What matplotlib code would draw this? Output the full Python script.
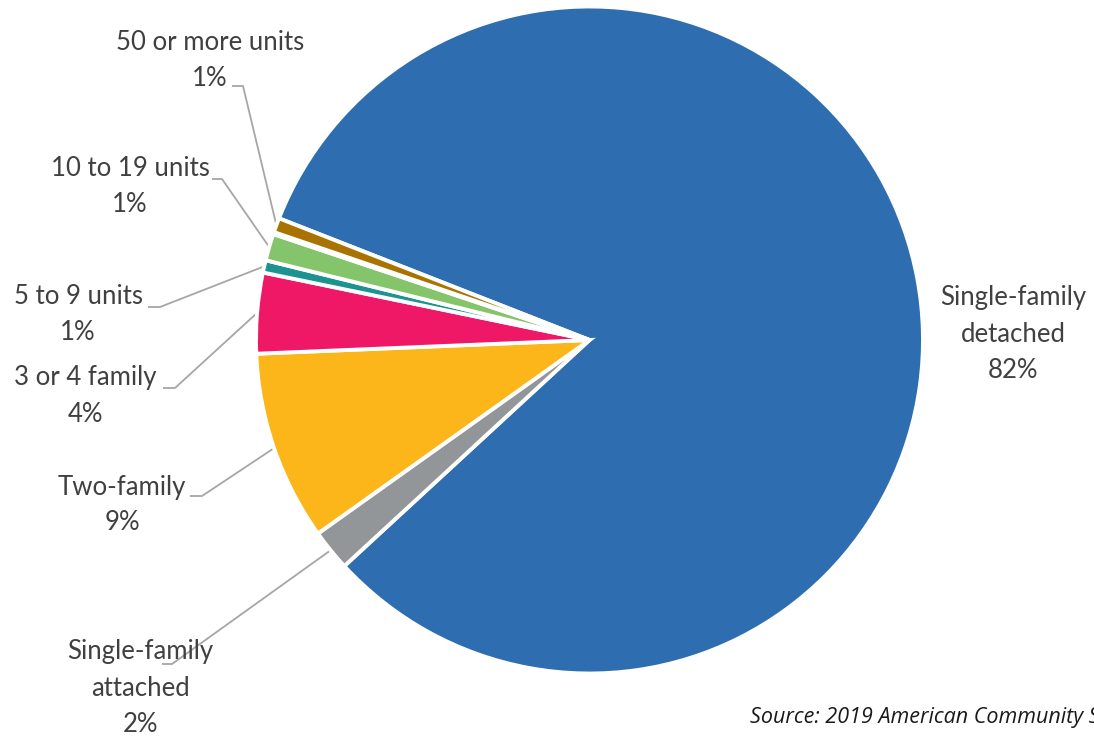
import matplotlib
matplotlib.use("Agg")
import matplotlib.pyplot as plt
import numpy as np

plt.rcParams['font.family'] = ['Lato', 'DejaVu Sans']

# housing stock by structure type, share of units (%)
categories = ["Single-family\ndetached", "Single-family\nattached", "Two-family",
              "3 or 4 family", "5 to 9 units", "10 to 19 units", "20 to 49 units",
              "50 or more units"]
shares = [82.2, 2.0, 9.2, 3.9, 0.6, 1.3, 0.1, 0.7]
colors = ["#2E6EB0", "#939698", "#FCB61A", "#EF1866", "#1C9390", "#84C46B",
          "#2B4F86", "#A87300"]
show_label = [True, True, True, True, True, True, False, True]

W, H = 1094, 740
fig = plt.figure(figsize=(W / 100, H / 100), dpi=100)
ax = fig.add_axes([0, 0, 1, 1])


def fy(y):
    # pixel row (from top) to axes y
    return H - y


cx, cy, radius = 589.5, fy(340), 333.5
wedges, _ = ax.pie(shares, colors=colors, startangle=158.6, counterclock=False,
                   center=(cx, cy), radius=radius, frame=True,
                   wedgeprops=dict(edgecolor='white', linewidth=2.8))
ax.set_xlim(0, W)
ax.set_ylim(0, H)
ax.set_aspect('equal')
ax.axis('off')

# label text centre and leader elbow (pixels); None = no leader line
layout = {
    0: ((1013, 334), None),
    1: ((140, 688), (172, 664)),
    2: ((122, 505), (202, 496)),
    3: ((85, 396), (175, 388)),
    4: ((78, 315), (160, 307)),
    5: ((130, 187), (222, 179)),
    7: ((210, 61), (243, 86)),
}
tip_len = {1: 10, 2: 12, 3: 12, 4: 12, 5: 10, 7: 11}

text_color = "#404040"
line_color = "#A6A6A6"
for i, w in enumerate(wedges):
    if not show_label[i]:
        continue
    label = f"{categories[i]}\n{shares[i]:.0f}%"
    (tx, ty), elbow = layout[i]
    ax.text(tx, fy(ty), label, ha='center', va='center', fontsize=18.5,
            color=text_color, linespacing=1.55)
    if elbow is None:
        continue
    mid = np.deg2rad((w.theta1 + w.theta2) / 2)
    px, py = cx + radius * np.cos(mid), cy + radius * np.sin(mid)
    ex, ey = elbow
    ax.plot([ex - tip_len[i], ex, px], [fy(ey), fy(ey), py],
            color=line_color, linewidth=1.3, solid_capstyle='butt', zorder=0.5)

ax.text(750, fy(718), "Source: 2019 American Community Survey", ha='left', va='center',
        fontsize=15.5, style='italic', color='#1a1a1a', family=['Open Sans', 'DejaVu Sans'])

fig.savefig("out.png", dpi=100)
